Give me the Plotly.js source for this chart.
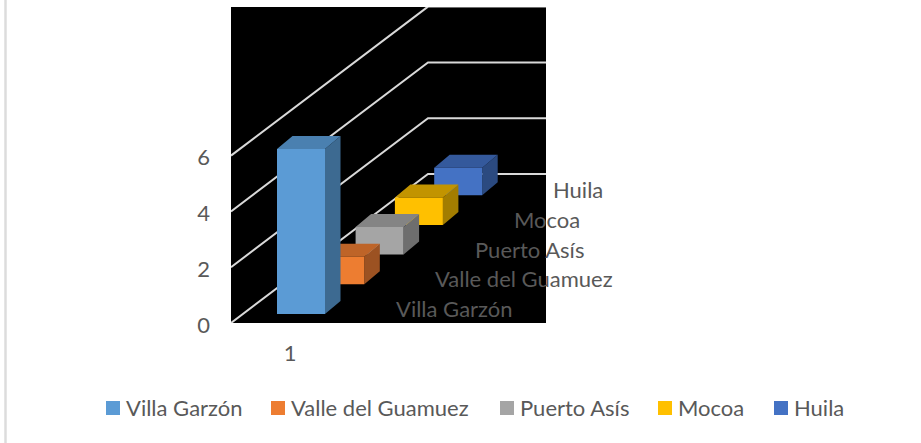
<!DOCTYPE html>
<html>
<head>
<meta charset="utf-8">
<script src="https://cdn.plot.ly/plotly-3.0.1.min.js"></script>
<style>html,body{margin:0;padding:0;background:#fff}#c{width:921px;height:443px}</style>
</head>
<body>
<div id="c"></div>
<script>
var seriesNames = ['Villa Garzón', 'Valle del Guamuez', 'Puerto Asís', 'Mocoa', 'Huila'];
var seriesValues = [6, 1, 1, 1, 1];
var frontColors = ['#5B9BD5', '#ED7D31', '#A5A5A5', '#FFC000', '#4472C4'];
var topColors = ['#4A80B0', '#BE6428', '#848484', '#C29400', '#34599C'];
var sideColors = ['#3D6A91', '#9C5222', '#6E6E6E', '#A37D00', '#2B4A80'];
var categoryLabels = ['1'];
var valueTicks = [0, 2, 4, 6];
var legendSwatchX = [106, 271, 500, 658, 774];

// Geometry of the oblique projection (x axis in px, y axis in value units)
var PX = 27.9, L = 231, T = 7, R = 546, B = 323;
var backDx = 197, backDy = 149 / PX, plotW = R - L;
var barX0 = 46, barY0 = 9 / PX, stepX = 39.3, stepY = 29.7 / PX;
var barW = 48, depthX = 15.5, depthY = 13 / PX;
var labelX0 = 163, labelY0 = 14.5 / PX;

var traces = [], annotations = [], shapes = [];

valueTicks.forEach(function (v) {
  traces.push({
    type: 'scatter', mode: 'lines', showlegend: false, hoverinfo: 'skip',
    x: [0, backDx, plotW], y: [v, v + backDy, v + backDy],
    line: { color: '#D9D9D9', width: 2 }
  });
});

function poly(xs, ys, color, name) {
  traces.push({
    type: 'scatter', mode: 'lines', fill: 'toself', fillcolor: color,
    line: { width: 0, color: color }, x: xs, y: ys, name: name,
    showlegend: false, hoverinfo: 'name'
  });
}

for (var i = seriesValues.length - 1; i >= 0; i--) {
  var x0 = barX0 + i * stepX, x1 = x0 + barW;
  var y0 = barY0 + i * stepY, y1 = y0 + seriesValues[i] * 0.985;
  poly([x1, x1 + depthX, x1 + depthX, x1, x1], [y0, y0 + depthY, y1 + depthY, y1, y0], sideColors[i], seriesNames[i]);
  poly([x0, x1, x1 + depthX, x0 + depthX, x0], [y1, y1, y1 + depthY, y1 + depthY, y1], topColors[i], seriesNames[i]);
  poly([x0, x1, x1, x0, x0], [y0, y0, y1, y1, y0], frontColors[i], seriesNames[i]);
}

var font = 'Lato, Carlito, Calibri, "Open Sans", sans-serif';
seriesNames.forEach(function (n, i) {
  annotations.push({
    xref: 'paper', yref: 'y', x: (labelX0 + i * stepX) / plotW, y: labelY0 + i * stepY,
    text: n, showarrow: false, xanchor: 'left', yanchor: 'middle',
    font: { family: font, size: 22, color: '#595959' }
  });
  annotations.push({
    xref: 'paper', yref: 'paper',
    x: (legendSwatchX[i] + 18 - L) / plotW, y: (B - 407) / (B - T),
    text: n, showarrow: false, xanchor: 'left', yanchor: 'middle',
    font: { family: font, size: 22, color: '#595959' }
  });
  shapes.push({
    type: 'rect', xref: 'paper', yref: 'paper', line: { width: 0 }, fillcolor: frontColors[i],
    x0: (legendSwatchX[i] - L) / plotW, x1: (legendSwatchX[i] + 14 - L) / plotW,
    y0: (B - 415) / (B - T), y1: (B - 401) / (B - T)
  });
});

// Page edge rule at the far left
shapes.push({
  type: 'line', xref: 'paper', yref: 'paper', layer: 'above',
  x0: (5.5 - L) / plotW, x1: (5.5 - L) / plotW,
  y0: (B - 443) / (B - T), y1: (B - 0) / (B - T),
  line: { color: '#DCDCDC', width: 2.5 }
});

var layout = {
  width: 921, height: 443,
  margin: { l: L, r: 921 - R, t: T, b: 443 - B, pad: 0 },
  paper_bgcolor: '#FFFFFF', plot_bgcolor: '#000000',
  showlegend: false, annotations: annotations, shapes: shapes,
  font: { family: font, size: 22, color: '#595959' },
  xaxis: {
    range: [0, plotW], showgrid: false, zeroline: false, showline: false, ticks: '',
    tickmode: 'array', tickvals: [59], ticktext: categoryLabels, ticklabelstandoff: 15,
    tickfont: { family: font, size: 22, color: '#595959' }
  },
  yaxis: {
    range: [0, (B - T) / PX], showgrid: false, zeroline: false, showline: false, ticks: '',
    tickmode: 'array', tickvals: valueTicks, ticklabelstandoff: 20, ticklabelshift: 2,
    tickfont: { family: font, size: 22, color: '#595959' }
  }
};

Plotly.newPlot('c', traces, layout, { displayModeBar: false, staticPlot: true });
</script>
</body>
</html>
